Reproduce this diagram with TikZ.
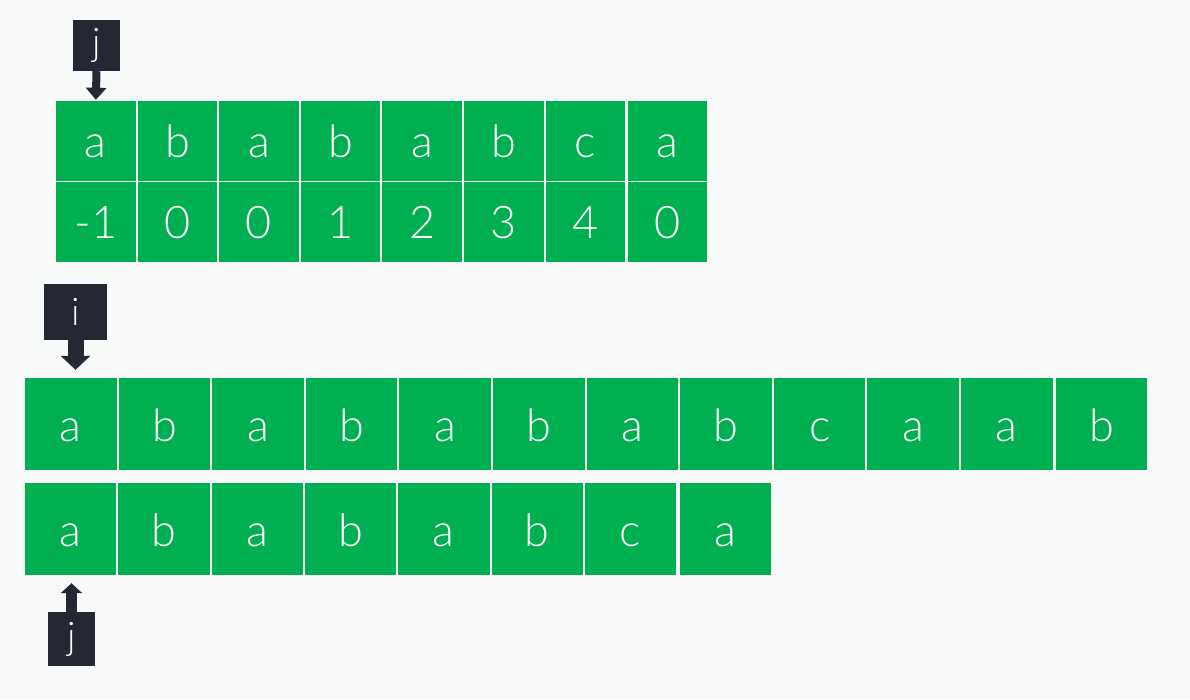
\documentclass[tikz,border=0pt]{standalone}
\usepackage{fontspec}
\usetikzlibrary{arrows.meta}
\newfontfamily\cellfont{Lato}[UprightFont=* Light]
\definecolor{cellgreen}{RGB}{0,175,80}
\definecolor{ptrdark}{RGB}{35,40,51}
\definecolor{pagebg}{RGB}{248,249,249}
\tikzset{
  cell/.style={fill=cellgreen, text=white, inner sep=0pt, minimum width=79.6pt, minimum height=80pt, text height=32pt, text depth=0pt, font=\cellfont\fontsize{45}{48}\selectfont},
  bigcell/.style={cell, minimum width=91.6pt, minimum height=92pt, text height=34pt},
  ptrbox/.style={fill=ptrdark, text=white, inner sep=0pt, font=\cellfont\fontsize{38}{42}\selectfont},
  ptrarrow/.style={draw=ptrdark, line width=#1}
}
\begin{document}
\begin{tikzpicture}[x=1pt,y=-1pt]

\fill[pagebg] (0,0) rectangle (1190,699);

% pattern and its next table
\node[cell] (p0) at (95.8,141) {a};
\node[cell] (p1) at (177.4,141) {b};
\node[cell] (p2) at (259,141) {a};
\node[cell] (p3) at (340.6,141) {b};
\node[cell] (p4) at (422.2,141) {a};
\node[cell] (p5) at (503.8,141) {b};
\node[cell] (p6) at (585.4,141) {c};
\node[cell] (p7) at (667.5,141) {a};
\node[cell] (n0) at (95.8,222) {-1};
\node[cell] (n1) at (177.4,222) {0};
\node[cell] (n2) at (259,222) {0};
\node[cell] (n3) at (340.6,222) {1};
\node[cell] (n4) at (422.2,222) {2};
\node[cell] (n5) at (503.8,222) {3};
\node[cell] (n6) at (585.4,222) {4};
\node[cell] (n7) at (667.5,222) {0};

\node[ptrbox, minimum width=47pt, minimum height=51pt] (jtop) at (96.5,45.5) {j};
\draw[ptrarrow=8pt, -{Triangle[width=20pt,length=12pt]}, shorten >=1pt] (jtop.south) -- (p0.north);

% text
\node[bigcell] (s0) at (70.8,424) {a};
\node[bigcell] (s1) at (164.4,424) {b};
\node[bigcell] (s2) at (258,424) {a};
\node[bigcell] (s3) at (351.6,424) {b};
\node[bigcell] (s4) at (445.2,424) {a};
\node[bigcell] (s5) at (538.8,424) {b};
\node[bigcell] (s6) at (632.4,424) {a};
\node[bigcell] (s7) at (726,424) {b};
\node[bigcell] (s8) at (819.6,424) {c};
\node[bigcell] (s9) at (913.2,424) {a};
\node[bigcell] (s10) at (1006.8,424) {a};
\node[bigcell] (s11) at (1101.4,424) {b};

% pattern
\node[bigcell, minimum width=91.3pt] (t0) at (70.65,529) {a};
\node[bigcell, minimum width=91.3pt] (t1) at (163.95,529) {b};
\node[bigcell, minimum width=91.3pt] (t2) at (257.25,529) {a};
\node[bigcell, minimum width=91.3pt] (t3) at (350.55,529) {b};
\node[bigcell, minimum width=91.3pt] (t4) at (443.85,529) {a};
\node[bigcell, minimum width=91.3pt] (t5) at (537.15,529) {b};
\node[bigcell, minimum width=91.3pt] (t6) at (630.45,529) {c};
\node[bigcell, minimum width=91.3pt] (t7) at (725.2,529) {a};

\node[ptrbox, minimum width=63pt, minimum height=56pt] (ibox) at (75.5,312) {i};
\draw[ptrarrow=16pt, -{Triangle[width=29pt,length=14pt]}, shorten >=8pt] (ibox.south) -- (ibox.south |- s0.north);

\node[ptrbox, minimum width=47pt, minimum height=54pt] (jbox) at (71.5,639) {j};
\draw[ptrarrow=11pt, -{Triangle[width=21pt,length=10pt]}, shorten >=8pt] (jbox.north) -- (jbox.north |- t0.south);

\end{tikzpicture}
\end{document}
